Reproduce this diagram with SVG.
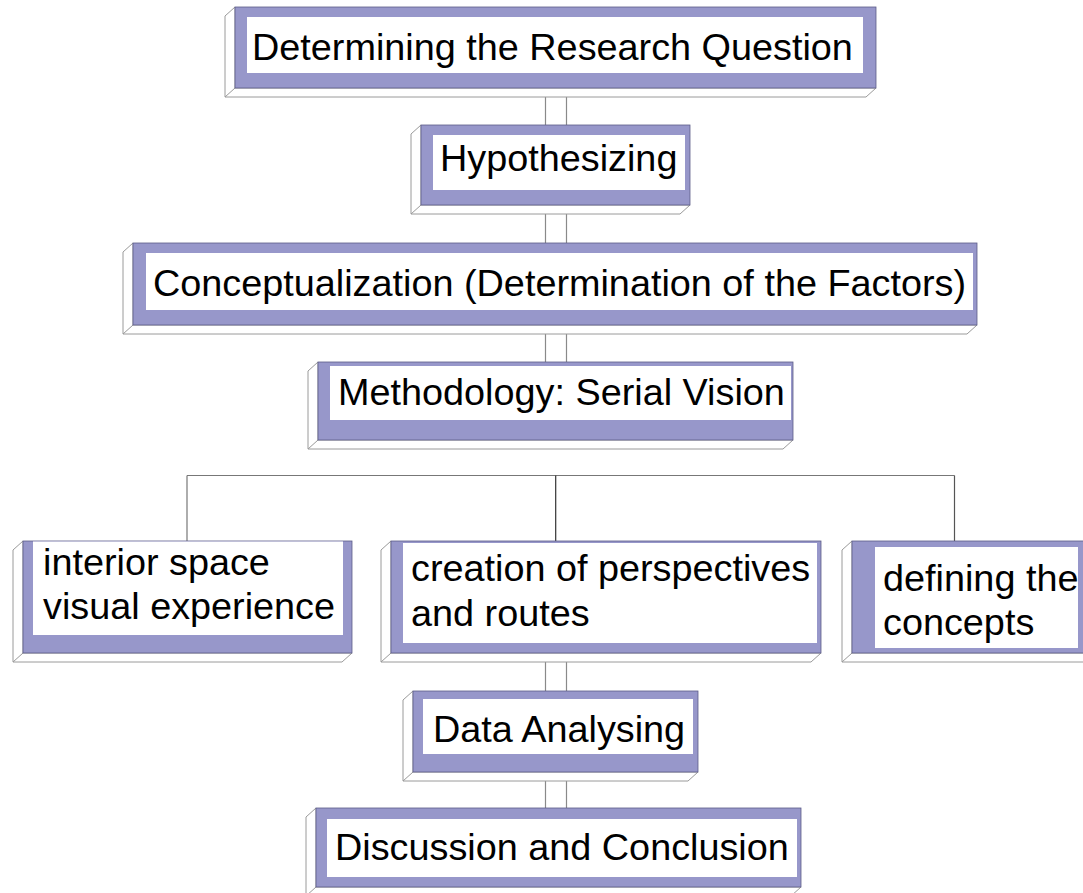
<svg xmlns="http://www.w3.org/2000/svg" width="1083" height="893" viewBox="0 0 1083 893">
<style>
.side{fill:#ffffff;stroke:#9a9a9a;stroke-width:1}
.front{fill:#9797ca;stroke:#5c5c88;stroke-width:0.8}
.inner{fill:#ffffff}
.label{font-family:"Liberation Sans",Arial,sans-serif;font-size:37.8px;fill:#000000}
.conn{stroke:#8a8a8a;stroke-width:1.2;fill:none}
.tree{stroke:#777777;stroke-width:1.2;fill:none}
</style>
<rect width="1083" height="893" fill="#ffffff"/>
<g id="connectors">
  <path class="conn" d="M545.5,97 V125 M566.5,97 V125"/>
  <path class="conn" d="M545.5,214 V243 M566.5,214 V243"/>
  <path class="conn" d="M545.5,334 V362 M566.5,334 V362"/>
  <path class="conn" d="M545.5,662 V691 M566.5,662 V691"/>
  <path class="conn" d="M545.5,781 V808 M566.5,781 V808"/>
  <path class="tree" d="M187,475.5 H954.5"/>
  <path class="tree" stroke="#aaaaaa" d="M187,475.5 V541"/>
  <path class="tree" style="stroke:#333333" d="M555.7,475.5 V541"/>
  <path class="tree" style="stroke:#555555" d="M954.5,475.5 V541"/>
</g>
<g id="node-research-question">
  <path class="side" d="M235,7 L225,16 L225,97 L866,97 L876,88 L235,88 Z M225,97 L235,88"/>
  <rect class="front" x="235" y="7" width="641" height="81"/>
  <rect class="inner" x="247" y="17" width="616" height="56"/>
  <text class="label" x="252" y="59.5">Determining the Research Question</text>
</g>
<g id="node-hypothesizing">
  <path class="side" d="M421,125 L411,134 L411,214 L680,214 L690,205 L421,205 Z M411,214 L421,205"/>
  <rect class="front" x="421" y="125" width="269" height="80"/>
  <rect class="inner" x="433" y="135" width="252" height="55"/>
  <text class="label" x="440" y="170.5">Hypothesizing</text>
</g>
<g id="node-conceptualization">
  <path class="side" d="M133,243 L123,252 L123,334 L967,334 L977,325 L133,325 Z M123,334 L133,325"/>
  <rect class="front" x="133" y="243" width="844" height="82"/>
  <rect class="inner" x="146" y="253" width="827" height="57"/>
  <text class="label" x="153" y="295.5">Conceptualization (Determination of the Factors)</text>
</g>
<g id="node-methodology">
  <path class="side" d="M318,362 L308,371 L308,449 L783,449 L793,440 L318,440 Z M308,449 L318,440"/>
  <rect class="front" x="318" y="362" width="475" height="78"/>
  <rect class="inner" x="330" y="366" width="461" height="54"/>
  <text class="label" x="338" y="405">Methodology: Serial Vision</text>
</g>
<g id="node-interior-space">
  <path class="side" d="M23,541 L13,550 L13,662 L342,662 L352,653 L23,653 Z M13,662 L23,653"/>
  <rect class="front" x="23" y="541" width="329" height="112"/>
  <rect class="inner" x="33" y="541.5" width="310" height="93.5"/>
  <text class="label" x="43" y="575">interior space</text>
  <text class="label" x="43" y="619">visual experience</text>
</g>
<g id="node-perspectives">
  <path class="side" d="M391,541 L381,550 L381,662 L811,662 L821,653 L391,653 Z M381,662 L391,653"/>
  <rect class="front" x="391" y="541" width="430" height="112"/>
  <rect class="inner" x="403" y="543" width="414" height="100"/>
  <text class="label" x="411" y="581">creation of perspectives</text>
  <text class="label" x="411" y="626">and routes</text>
</g>
<g id="node-concepts">
  <path class="side" d="M852,541 L842,550 L842,662 L1090,662 L1100,653 L852,653 Z M842,662 L852,653"/>
  <rect class="front" x="852" y="541" width="245" height="112"/>
  <rect class="inner" x="875" y="547" width="203" height="101"/>
  <text class="label" x="883" y="591">defining the</text>
  <text class="label" x="883" y="635">concepts</text>
</g>
<g id="node-data-analysing">
  <path class="side" d="M413,691 L403,700 L403,781 L688,781 L698,772 L413,772 Z M403,781 L413,772"/>
  <rect class="front" x="413" y="691" width="285" height="81"/>
  <rect class="inner" x="423" y="699" width="270" height="55"/>
  <text class="label" x="433" y="741.5">Data Analysing</text>
</g>
<g id="node-discussion">
  <path class="side" d="M316,808 L306,817 L306,896 L791,896 L801,887 L316,887 Z M306,896 L316,887"/>
  <rect class="front" x="316" y="808" width="485" height="79"/>
  <rect class="inner" x="327" y="819" width="470" height="58"/>
  <text class="label" x="335" y="860">Discussion and Conclusion</text>
</g>
</svg>
